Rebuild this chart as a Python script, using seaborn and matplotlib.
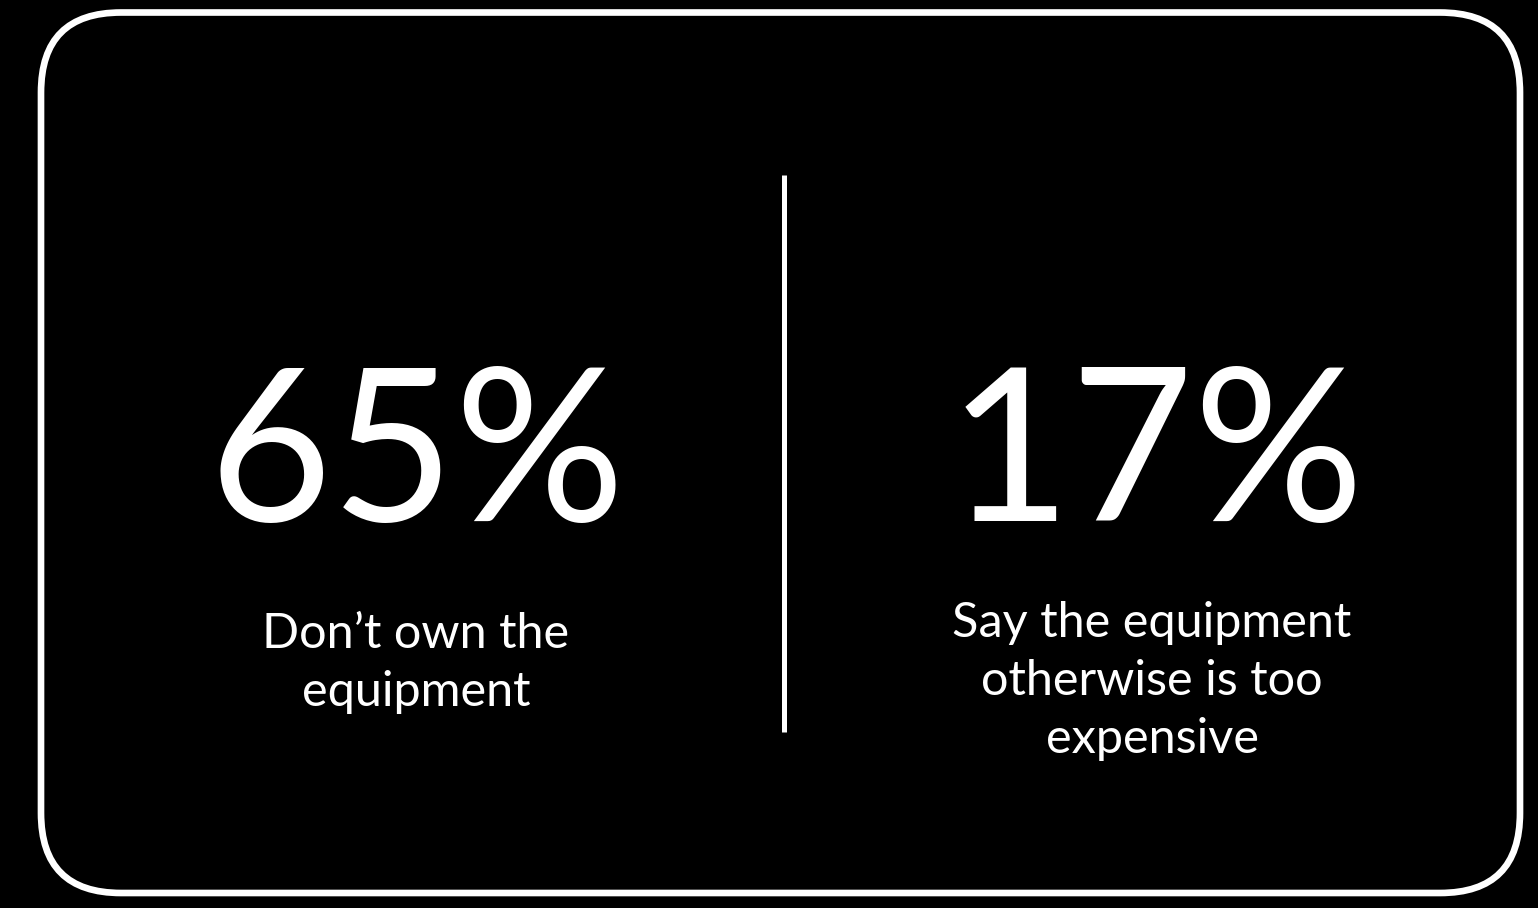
import matplotlib
matplotlib.use("Agg")
import matplotlib.pyplot as plt
from matplotlib.patches import FancyBboxPatch
import seaborn as sns

# ---- data ----
percent_values = [65, 17]
captions = ["Don\u2019t own the\nequipment",
            "Say the equipment\notherwise is too\nexpensive"]

# ---- style ----
sns.set_theme(style="dark", rc={"figure.facecolor": "black",
                                "axes.facecolor": "black"})
plt.rcParams["font.family"] = ["Lato", "DejaVu Sans"]

W, H = 1538, 908
fig = plt.figure(figsize=(W / 100, H / 100), dpi=100, facecolor="black")
ax = fig.add_axes([0, 0, 1, 1])
ax.set_xlim(0, W)
ax.set_ylim(H, 0)
ax.axis("off")

# rounded frame
frame = FancyBboxPatch((41, 12.5), 1520 - 41, 893 - 12.5,
                       boxstyle="round,pad=0,rounding_size=80",
                       facecolor="black", edgecolor="white", linewidth=4.8,
                       zorder=1)
ax.add_patch(frame)

# divider
sns.lineplot(x=[784, 784], y=[175, 732], ax=ax, color="white",
             linewidth=3.6, zorder=2, estimator=None, sort=False,
             solid_capstyle="butt")

centers = [417, 1156]
caption_centers = [416, 1152]
caption_first_baseline = [648, 637]
line_step = 58

for i, (val, cap) in enumerate(zip(percent_values, captions)):
    ax.text(centers[i], 521, f"{val}%", color="white", fontsize=153,
            ha="center", va="baseline", zorder=3)
    for j, line in enumerate(cap.split("\n")):
        ax.text(caption_centers[i], caption_first_baseline[i] + j * line_step,
                line, color="white", fontsize=35, ha="center",
                va="baseline", zorder=3)

fig.savefig("out.png", dpi=100, facecolor="black")
